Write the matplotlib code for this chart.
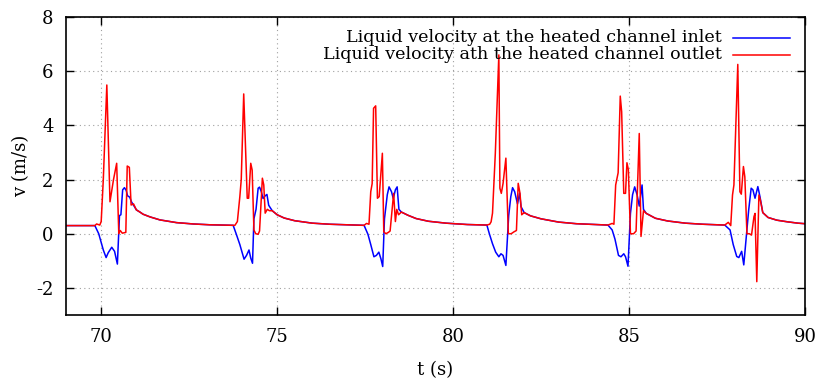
import matplotlib
matplotlib.use("Agg")
import matplotlib.pyplot as plt

plt.rcParams['font.family'] = ['DejaVu Serif']
plt.rcParams['axes.unicode_minus'] = False

# inlet velocity (blue)
t_in = [69.00, 69.82, 69.93, 70.06, 70.14, 70.20, 70.30, 70.38, 70.46, 70.52, 70.56, 70.61, 70.66, 70.71, 70.75, 70.81, 70.86,
        71.00, 71.10, 71.19, 71.39, 71.67, 72.14, 72.62, 73.09, 73.75,
        73.84, 73.94, 74.06, 74.13, 74.20, 74.25, 74.30, 74.34, 74.40, 74.46, 74.50, 74.55, 74.60, 74.66, 74.71, 74.76, 74.86,
        75.00, 75.20, 75.50, 76.00, 76.50, 77.00, 77.47,
        77.58, 77.66, 77.75, 77.82, 77.89, 77.95, 78.00, 78.05, 78.13, 78.18, 78.25, 78.30, 78.36, 78.41, 78.46, 78.53,
        78.72, 78.95, 79.30, 79.80, 80.40, 80.96,
        81.03, 81.12, 81.21, 81.30, 81.36, 81.42, 81.50, 81.58, 81.64, 81.69, 81.75, 81.83, 81.89, 81.93, 82.02,
        82.20, 82.50, 83.00, 83.50, 84.00, 84.40,
        84.52, 84.60, 84.70, 84.77, 84.85, 84.90, 84.97, 85.04, 85.10, 85.16, 85.23, 85.29, 85.37, 85.41, 85.49,
        85.75, 86.10, 86.60, 87.10, 87.72,
        87.87, 87.96, 88.06, 88.12, 88.20, 88.26, 88.40, 88.47, 88.52, 88.58, 88.66, 88.72, 88.80,
        88.95, 89.20, 89.50, 89.80, 90.00]
v_in = [0.30, 0.30, 0.00, -0.60, -0.88, -0.70, -0.50, -0.65, -1.12, 0.67, 0.70, 1.62, 1.70, 1.60, 1.40, 1.35, 1.18,
        0.88, 0.80, 0.72, 0.62, 0.51, 0.41, 0.36, 0.33, 0.31,
        -0.02, -0.40, -0.94, -0.80, -0.60, -0.90, -1.09, 0.55, 0.90, 1.68, 1.72, 1.55, 1.30, 1.40, 1.45, 1.05, 0.85,
        0.70, 0.58, 0.48, 0.39, 0.35, 0.33, 0.31,
        -0.02, -0.40, -0.85, -0.80, -0.68, -0.93, -1.21, 0.55, 1.44, 1.73, 1.55, 1.30, 1.62, 1.73, 0.90, 0.80,
        0.68, 0.56, 0.46, 0.39, 0.34, 0.32,
        0.00, -0.37, -0.68, -0.85, -0.74, -0.80, -1.17, 0.67, 1.37, 1.70, 1.55, 1.10, 1.50, 1.00, 0.78,
        0.66, 0.55, 0.43, 0.37, 0.34, 0.32,
        0.14, -0.20, -0.80, -0.85, -0.74, -0.85, -1.20, 0.75, 1.44, 1.73, 1.43, 1.02, 1.80, 0.90, 0.75,
        0.57, 0.47, 0.39, 0.35, 0.32,
        0.14, -0.40, -0.84, -0.88, -0.65, -1.15, 0.88, 1.68, 1.62, 1.31, 1.74, 1.37, 0.78,
        0.60, 0.50, 0.44, 0.39, 0.37]

# outlet velocity (red)
t_out = [69.00, 69.82, 69.87, 69.96, 70.00, 70.06, 70.16, 70.25, 70.35, 70.44, 70.50, 70.54, 70.60, 70.70, 70.74, 70.80, 70.85, 70.92,
         71.00, 71.10, 71.19, 71.39, 71.67, 72.14, 72.62, 73.09, 73.75,
         73.80, 73.87, 73.94, 73.98, 74.05, 74.15, 74.19, 74.25, 74.29, 74.34, 74.39, 74.46, 74.50, 74.58, 74.62, 74.66, 74.72, 74.78, 74.86,
         75.00, 75.20, 75.50, 76.00, 76.50, 77.00, 77.47,
         77.54, 77.61, 77.66, 77.70, 77.74, 77.80, 77.85, 77.90, 77.99, 78.03, 78.09, 78.16, 78.21, 78.31, 78.36, 78.40, 78.45, 78.53,
         78.72, 78.95, 79.30, 79.80, 80.40, 80.96,
         81.04, 81.08, 81.12, 81.20, 81.30, 81.33, 81.37, 81.42, 81.50, 81.57, 81.65, 81.73, 81.80, 81.85, 81.90, 81.95, 82.02,
         82.20, 82.50, 83.00, 83.50, 84.00, 84.40,
         84.52, 84.57, 84.62, 84.69, 84.75, 84.79, 84.85, 84.90, 84.94, 84.98, 85.04, 85.13, 85.20, 85.29, 85.34, 85.41, 85.49,
         85.75, 86.10, 86.60, 87.10, 87.72,
         87.82, 87.89, 87.94, 87.98, 88.09, 88.15, 88.19, 88.25, 88.29, 88.35, 88.42, 88.48, 88.55, 88.58, 88.63, 88.69, 88.73, 88.80,
         88.95, 89.20, 89.50, 89.80, 90.00]
v_out = [0.30, 0.30, 0.36, 0.32, 0.45, 2.00, 5.49, 1.18, 2.00, 2.60, 0.00, 0.12, 0.02, 0.05, 2.50, 2.45, 1.06, 1.10,
         0.88, 0.80, 0.72, 0.62, 0.51, 0.41, 0.36, 0.33, 0.31,
         0.31, 0.45, 1.37, 2.00, 5.16, 1.31, 1.31, 2.60, 2.35, 0.14, 0.00, -0.02, 0.10, 2.05, 1.80, 0.76, 0.90, 0.85, 0.85,
         0.70, 0.58, 0.48, 0.39, 0.35, 0.33, 0.31,
         0.38, 0.35, 1.55, 1.85, 4.63, 4.72, 1.31, 1.37, 2.97, 0.07, 0.00, 0.05, 0.10, 1.49, 0.45, 0.90, 0.70, 0.80,
         0.68, 0.56, 0.46, 0.39, 0.34, 0.32,
         0.35, 0.44, 0.76, 2.97, 6.60, 1.68, 1.49, 1.86, 2.79, 0.00, 0.00, 0.07, 0.12, 1.86, 1.50, 0.70, 0.78,
         0.66, 0.55, 0.43, 0.37, 0.34, 0.32,
         0.38, 0.35, 1.80, 2.25, 5.08, 4.50, 1.49, 1.49, 2.62, 2.37, 0.00, 0.00, 0.10, 3.70, -0.10, 0.85, 0.75,
         0.57, 0.47, 0.39, 0.35, 0.32,
         0.42, 0.30, 1.43, 1.80, 6.25, 1.55, 1.46, 2.48, 2.10, 0.00, 0.00, -0.05, 0.63, 0.75, -1.77, 1.43, 1.25, 0.78,
         0.60, 0.50, 0.44, 0.39, 0.37]

label_in = "Liquid velocity at the heated channel inlet"
label_out = "Liquid velocity ath the heated channel outlet"

fig = plt.figure(figsize=(8.19, 3.8), dpi=100)
ax = fig.add_axes([66/819, 65/380, 739/819, 298/380])

ax.plot(t_in, v_in, color='#0000ff', lw=1.1)
ax.plot(t_out, v_out, color='#ff0000', lw=1.1)

ax.set_xlim(69, 90)
ax.set_ylim(-3, 8)
ax.set_xticks([70, 75, 80, 85, 90])
ax.set_yticks([-2, 0, 2, 4, 6, 8])
ax.grid(True, color='#a0a0a0', linestyle=(0, (1, 3)), lw=0.8)
ax.tick_params(direction='in', length=6, width=1, top=True, right=True, labelsize=13, pad=9)
for s in ax.spines.values():
    s.set_linewidth(1.2)

ax.set_xlabel("t (s)", fontsize=13, labelpad=11)
ax.set_ylabel("v (m/s)", fontsize=13, labelpad=4)

# legend drawn gnuplot style: text right-aligned, sample line on the right
for i, (lab, col) in enumerate([(label_in, '#0000ff'), (label_out, '#ff0000')]):
    y = 0.93 - i * 0.057
    ax.text(0.888, y, lab, transform=ax.transAxes, ha='right', va='center', fontsize=12.6)
    ax.plot([0.903, 0.98], [y, y], transform=ax.transAxes, color=col, lw=1.1)

fig.savefig("out.png", dpi=100)
